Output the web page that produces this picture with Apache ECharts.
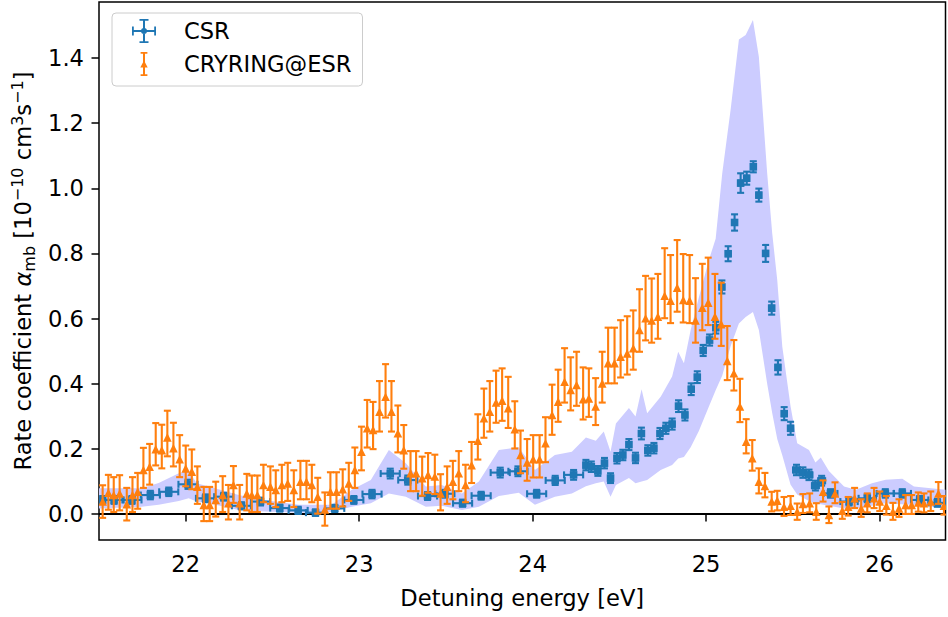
<!DOCTYPE html>
<html><head><meta charset="utf-8">
<script src="https://cdn.jsdelivr.net/npm/echarts@6/dist/echarts.min.js"></script>
<style>html,body{margin:0;padding:0;background:#fff}#c{width:948px;height:617px}</style>
</head><body><div id="c"></div>
<script>
const xRange = [21.5, 26.38];
const yRange = [-0.08, 1.572];
const xTicks = [22, 23, 24, 25, 26];
const yTicks = [0, 0.2, 0.4, 0.6, 0.8, 1.0, 1.2, 1.4];

const csrX = [21.521,21.587,21.690,21.796,21.902,22.013,22.114,22.219,22.321,22.431,
22.542,22.648,22.748,22.859,22.969,23.074,23.179,23.280,23.394,23.494,
23.596,23.703,23.813,23.915,24.023,24.130,24.236,
24.307,24.338,24.376,24.414,24.449,24.486,24.520,24.555,24.593,24.627,
24.664,24.699,24.734,24.768,24.804,24.841,24.878,24.914,24.949,24.983,
25.020,25.056,25.091,25.127,25.164,25.199,25.234,25.272,25.304,25.343,
25.378,25.414,25.450,25.487,25.521,25.558,25.593,25.630,25.666,
25.717,25.824,25.929,26.033,26.131,26.231,26.333];
const csrY = [.043,.043,.043,.058,.068,.091,.048,.053,.025,.038,
.018,.011,.004,.017,.043,.061,.124,.104,.055,.062,
.033,.056,.127,.131,.062,.103,.120,
.150,.145,.132,.156,.110,.171,.181,.213,.172,.247,
.195,.202,.247,.263,.276,.331,.304,.383,.420,.502,
.534,.572,.697,.799,.895,1.016,1.031,1.066,.979,.800,
.632,.450,.308,.263,.135,.127,.120,.087,.102,
.063,.038,.048,.063,.063,.043,.034];
const csrXErr = [.055,.055,.055,.055,.055,.055,.055,.055,.055,.055,
.055,.055,.055,.055,.055,.055,.055,.055,.055,.055,
.055,.055,.055,.055,.055,.055,.055,
.012,.012,.012,.012,.012,.012,.012,.012,.012,.012,
.012,.012,.012,.012,.012,.012,.012,.012,.012,.012,
.012,.012,.012,.012,.012,.012,.012,.012,.012,.012,
.012,.012,.012,.012,.02,.02,.02,.02,.02,
.04,.05,.05,.05,.05,.05,.05];
const csrYErr = [.012,.012,.012,.013,.013,.014,.012,.012,.011,.012,
.011,.011,.010,.011,.012,.013,.015,.014,.012,.012,
.011,.012,.015,.015,.012,.014,.015,
.016,.016,.015,.016,.015,.016,.016,.017,.016,.018,
.016,.016,.017,.017,.017,.018,.017,.018,.018,.017,
.017,.018,.020,.023,.025,.030,.020,.017,.020,.026,
.020,.022,.020,.020,.016,.016,.016,.015,.015,
.013,.012,.012,.013,.013,.012,.012];

const cryX = [21.521,21.554,21.585,21.619,21.660,21.693,21.723,21.756,21.792,21.827,
21.862,21.894,21.929,21.965,22.000,22.035,22.067,22.104,22.138,22.173,
22.213,22.246,22.275,22.311,22.352,22.381,22.413,22.448,22.488,22.519,
22.554,22.588,22.623,22.661,22.696,22.727,22.761,22.802,22.834,22.869,
22.905,22.940,22.975,23.013,23.046,23.080,23.117,23.152,23.186,23.223,
23.257,23.296,23.328,23.363,23.397,23.436,23.469,23.507,23.540,23.574,
23.613,23.648,23.684,23.719,23.753,23.789,23.824,23.859,23.897,23.930,
23.968,24.003,24.040,24.074,24.112,24.147,24.184,24.219,24.253,24.291,
24.324,24.363,24.401,24.435,24.472,24.507,24.545,24.580,24.616,24.651,
24.686,24.722,24.761,24.795,24.833,24.868,24.905,24.939,24.978,25.012,
25.051,25.087,25.122,25.160,25.195,25.231,25.266,25.304,25.339,25.378,
25.410,25.449,25.487,25.525,25.558,25.597,25.635,25.674,25.708,25.743,
25.785,25.819,25.856,25.894,25.929,25.968,26.001,26.039,26.077,26.112,
26.150,26.185,26.223,26.256,26.295,26.339,26.371];
const cryY = [.038,.065,.058,.063,.030,.058,.068,.135,.145,.199,
.196,.235,.202,.168,.140,.130,.084,.028,.028,.043,
.058,.033,.089,.033,.063,.058,.058,.089,.084,.074,
.089,.094,.074,.099,.099,.089,.053,.014,.068,.068,
.076,.094,.135,.191,.263,.258,.314,.360,.314,.248,
.196,.125,.125,.110,.120,.115,.063,.084,.099,.125,
.089,.150,.225,.294,.314,.342,.348,.325,.260,.181,
.158,.168,.168,.217,.304,.345,.406,.381,.396,.352,
.355,.330,.401,.463,.463,.483,.493,.509,.565,.601,
.594,.606,.670,.655,.695,.657,.655,.594,.633,.649,
.606,.583,.470,.432,.330,.222,.171,.099,.086,.038,
.041,.022,.025,.007,.031,.033,.007,.068,-.003,.063,
.010,.022,.048,.017,.033,.048,.038,.025,.007,.017,
.028,.028,.035,.033,.038,.063,.025];
const cryErrLo = [.050,.052,.052,.052,.050,.052,.052,.055,.055,.050,
.056,.058,.056,.055,.055,.054,.053,.050,.050,.051,
.052,.050,.055,.050,.052,.052,.052,.053,.053,.053,
.053,.054,.053,.054,.054,.053,.052,.050,.052,.052,
.053,.054,.055,.057,.059,.059,.061,.064,.061,.059,
.057,.055,.055,.054,.055,.054,.052,.053,.054,.055,
.053,.055,.058,.060,.061,.062,.062,.061,.059,.056,
.056,.056,.056,.058,.061,.062,.064,.063,.064,.062,
.057,.057,.059,.062,.062,.064,.065,.066,.067,.068,
.068,.068,.069,.069,.074,.069,.069,.068,.069,.069,
.068,.067,.059,.053,.048,.036,.038,.036,.035,.030,
.030,.028,.028,.025,.028,.028,.025,.030,.025,.030,
.025,.027,.030,.026,.028,.030,.029,.027,.025,.026,
.028,.028,.028,.028,.029,.032,.027];
const cryErrHi = [.050,.055,.055,.056,.050,.055,.058,.068,.070,.080,
.078,.082,.078,.074,.070,.068,.062,.055,.055,.056,
.058,.056,.058,.056,.060,.060,.060,.062,.062,.060,
.062,.063,.060,.064,.064,.062,.058,.052,.060,.060,
.061,.063,.069,.077,.087,.086,.094,.100,.094,.085,
.077,.068,.068,.066,.067,.067,.059,.062,.064,.068,
.062,.071,.081,.091,.094,.098,.099,.096,.086,.075,
.072,.074,.074,.080,.093,.098,.103,.100,.102,.098,
.092,.087,.097,.109,.109,.112,.114,.116,.125,.130,
.129,.131,.146,.140,.146,.141,.140,.130,.135,.138,
.131,.127,.107,.102,.085,.069,.056,.041,.040,.030,
.030,.030,.030,.025,.030,.030,.026,.035,.026,.034,
.027,.030,.032,.028,.030,.032,.031,.030,.027,.028,
.030,.030,.031,.030,.031,.035,.030];

const bandX = [21.500,21.746,21.844,21.960,22.017,22.063,22.133,22.306,22.421,22.652,
22.842,22.957,23.067,23.171,23.269,23.384,23.476,23.592,23.690,23.805,
23.920,24.013,24.128,24.226,24.307,24.364,24.410,24.449,24.480,24.555,
24.593,24.628,24.660,24.738,24.804,24.839,24.872,24.911,24.958,25.016,
25.055,25.093,25.141,25.189,25.228,25.270,25.304,25.352,25.381,25.410,
25.439,25.487,25.525,25.593,25.630,25.661,25.708,25.795,25.864,25.956,
26.035,26.131,26.198,26.380];
const bandUpper = [.079,.079,.095,.125,.133,.094,.084,.058,.045,.028,
.028,.074,.104,.196,.156,.084,.089,.063,.100,.196,
.205,.135,.181,.191,.235,.225,.253,.191,.278,.325,
.299,.383,.309,.360,.422,.498,.463,.565,.665,.780,
.845,1.046,1.240,1.457,1.471,1.517,1.404,1.046,.862,.718,
.514,.330,.217,.196,.158,.173,.132,.084,.074,.094,
.105,.108,.084,.074];
const bandLower = [.017,.022,.028,.040,.048,.038,.033,.012,.008,.004,
.007,.022,.033,.063,.053,.022,.025,.012,.022,.055,
.065,.028,.053,.063,.085,.094,.100,.053,.089,.110,
.094,.100,.104,.135,.150,.170,.175,.205,.255,.330,
.380,.425,.515,.585,.605,.620,.565,.400,.310,.230,
.180,.090,.060,.040,.033,.030,.025,.017,.017,.025,
.033,.030,.028,.017];

const BLUE = '#1f77b4', ORANGE = '#ff7f0e', BAND = '#ccccff';
const FONT = 'DejaVu Sans';
const FS = 22.6;

const csrData = csrX.map((x, i) => [x, csrY[i], csrXErr[i], csrYErr[i]]);
const cryData = cryX.map((x, i) => [x, cryY[i], cryErrLo[i], cryErrHi[i]]);

const LW = 2.1, CAP = 3.5, HS = 3.8;

function lineEl(x1, y1, x2, y2, col) {
  return { type: 'line', shape: { x1, y1, x2, y2 }, style: { stroke: col, lineWidth: LW } };
}

function renderBand(params, api) {
  const pts = [];
  for (let i = 0; i < bandX.length; i++) pts.push(api.coord([bandX[i], bandUpper[i]]));
  for (let i = bandX.length - 1; i >= 0; i--) pts.push(api.coord([bandX[i], bandLower[i]]));
  const a = api.coord([xRange[0], 0]), b = api.coord([xRange[1], 0]);
  return { type: 'group', children: [
    { type: 'polygon', shape: { points: pts }, style: { fill: BAND } },
    { type: 'line', shape: { x1: a[0], y1: a[1], x2: b[0], y2: b[1] }, style: { stroke: '#000', lineWidth: 2 } }
  ]};
}

function renderCsr(params, api) {
  const x = api.value(0), y = api.value(1), ex = api.value(2), ey = api.value(3);
  const c = api.coord([x, y]);
  const l = api.coord([x - ex, y]), r = api.coord([x + ex, y]);
  const t = api.coord([x, y + ey]), b = api.coord([x, y - ey]);
  return { type: 'group', children: [
    lineEl(l[0], c[1], r[0], c[1], BLUE),
    lineEl(l[0], c[1] - CAP, l[0], c[1] + CAP, BLUE),
    lineEl(r[0], c[1] - CAP, r[0], c[1] + CAP, BLUE),
    lineEl(c[0], t[1], c[0], b[1], BLUE),
    lineEl(c[0] - CAP, t[1], c[0] + CAP, t[1], BLUE),
    lineEl(c[0] - CAP, b[1], c[0] + CAP, b[1], BLUE),
    { type: 'rect', shape: { x: c[0] - HS, y: c[1] - HS, width: 2 * HS, height: 2 * HS }, style: { fill: BLUE } }
  ]};
}

function renderCry(params, api) {
  const x = api.value(0), y = api.value(1), lo = api.value(2), hi = api.value(3);
  const c = api.coord([x, y]);
  const t = api.coord([x, y + hi]), b = api.coord([x, y - lo]);
  const s = 4.3;
  return { type: 'group', children: [
    lineEl(c[0], t[1], c[0], b[1], ORANGE),
    lineEl(c[0] - CAP, t[1], c[0] + CAP, t[1], ORANGE),
    lineEl(c[0] - CAP, b[1], c[0] + CAP, b[1], ORANGE),
    { type: 'polygon', shape: { points: [[c[0], c[1] - s], [c[0] - s, c[1] + s], [c[0] + s, c[1] + s]] }, style: { fill: ORANGE } }
  ]};
}

const CSR_ICON = 'path://M0,11L24,11L24,13L0,13Z M0,7.5L1.8,7.5L1.8,16.5L0,16.5Z M22.2,7.5L24,7.5L24,16.5L22.2,16.5Z M11,0L13,0L13,24L11,24Z M7.5,0L16.5,0L16.5,1.8L7.5,1.8Z M7.5,22.2L16.5,22.2L16.5,24L7.5,24Z M9,12A3,3 0 1,1 15,12A3,3 0 1,1 9,12Z';
const CRY_ICON = 'path://M2.7,0L4.7,0L4.7,24L2.7,24Z M0.3,0L7.1,0L7.1,1.8L0.3,1.8Z M0.3,22.2L7.1,22.2L7.1,24L0.3,24Z M3.7,8.5L7.4,15.5L0,15.5Z';

const chart = echarts.init(document.getElementById('c'), null, { renderer: 'svg' });
chart.setOption({
  animation: false,
  backgroundColor: '#fff',
  textStyle: { fontFamily: FONT },
  grid: { left: 99, right: 2.5, top: 2, bottom: 77, show: true, borderColor: '#000', borderWidth: 1.5, backgroundColor: 'transparent' },
  legend: {
    data: [
      { name: 'CSR', icon: CSR_ICON, itemStyle: { color: BLUE } },
      { name: 'CRYRING@ESR', icon: CRY_ICON, itemStyle: { color: ORANGE } }
    ],
    orient: 'vertical', left: 112, top: 13,
    itemWidth: 24, itemHeight: 24, itemGap: 9,
    padding: [6, 11, 10, 20],
    symbolKeepAspect: true,
    backgroundColor: 'rgba(255,255,255,0.8)', borderColor: '#cccccc', borderWidth: 1, borderRadius: 4,
    selectedMode: false,
    textStyle: { fontSize: FS, fontFamily: FONT, color: '#000', lineHeight: 24, padding: [0, 0, 0, 23] }
  },
  xAxis: {
    type: 'value', min: xRange[0], max: xRange[1],
    name: 'Detuning energy [eV]', nameLocation: 'middle', nameGap: 46,
    nameTextStyle: { fontSize: FS, fontFamily: FONT, color: '#000' },
    axisLine: { show: false },
    axisTick: { show: true, inside: false, length: 7.5, lineStyle: { color: '#000', width: 1.5 }, customValues: xTicks },
    axisLabel: { customValues: xTicks, fontSize: FS, fontFamily: FONT, color: '#000', margin: 12, formatter: v => String(v) },
    splitLine: { show: false }
  },
  yAxis: {
    type: 'value', min: yRange[0], max: yRange[1],
    name: 'Rate coefficient {a|α}{s|mb} [10{p|−10} cm{p|3}s{p|−1}]',
    nameLocation: 'middle', nameRotate: 90, nameGap: 57,
    nameTextStyle: {
      fontSize: FS, fontFamily: FONT, color: '#000', lineHeight: 28,
      rich: {
        a: { fontSize: FS, fontStyle: 'italic', fontFamily: FONT, color: '#000', lineHeight: 28 },
        s: { fontSize: 16, fontFamily: FONT, color: '#000', lineHeight: 16, verticalAlign: 'bottom' },
        p: { fontSize: 16, fontFamily: FONT, color: '#000', lineHeight: 16, verticalAlign: 'top' }
      }
    },
    axisLine: { show: false },
    axisTick: { show: true, inside: false, length: 7.5, lineStyle: { color: '#000', width: 1.5 }, customValues: yTicks },
    axisLabel: { customValues: yTicks, fontSize: FS, fontFamily: FONT, color: '#000', margin: 15, formatter: v => v.toFixed(1) },
    splitLine: { show: false }
  },
  series: [
    { type: 'custom', name: 'band', silent: true, z: 1, clip: true, renderItem: renderBand, data: [[xRange[0], 0]], encode: { x: 0, y: 1 } },
    { type: 'custom', name: 'CSR', z: 3, clip: true, renderItem: renderCsr, data: csrData, encode: { x: 0, y: 1 }, itemStyle: { color: BLUE } },
    { type: 'custom', name: 'CRYRING@ESR', z: 4, clip: true, renderItem: renderCry, data: cryData, encode: { x: 0, y: 1 }, itemStyle: { color: ORANGE } }
  ]
});
</script>
</body></html>
